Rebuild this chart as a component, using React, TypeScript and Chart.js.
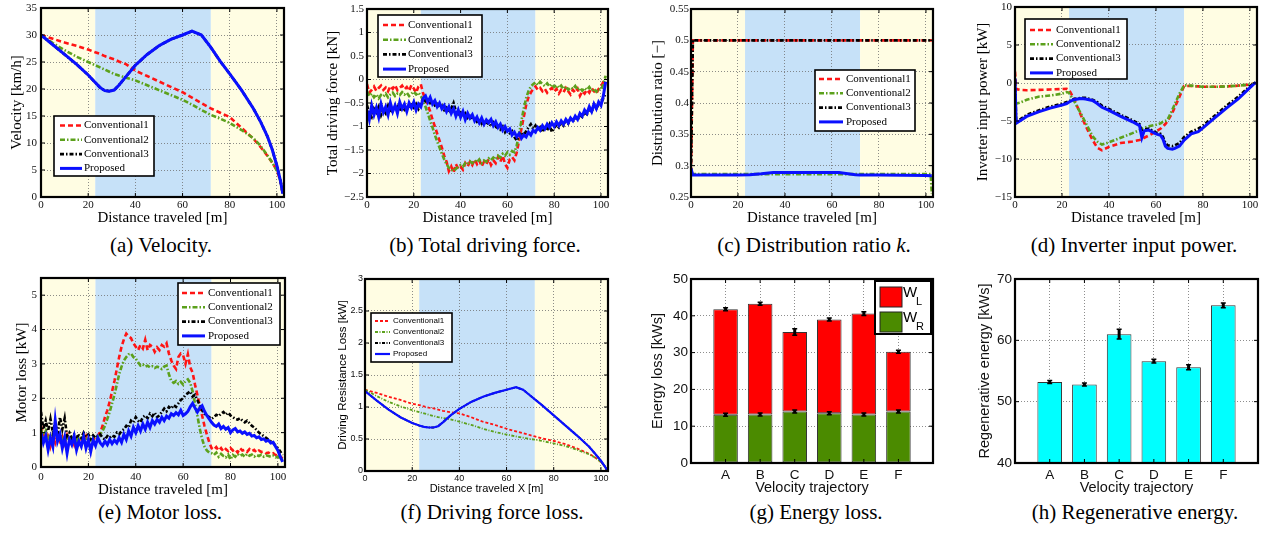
import React, { useEffect, useRef } from 'react';
import { Chart, registerables } from 'chart.js';

Chart.register(...registerables);

const SERIF = '"Liberation Serif", "Nimbus Roman", "Nimbus Roman No9 L", "FreeSerif", "DejaVu Serif", serif';
const SANS = '"Liberation Sans", Arial, Helvetica, sans-serif';

// ---------------- data ----------------
const seriesNames = ['Conventional1', 'Conventional2', 'Conventional3', 'Proposed'];
const bandEdges = [0, 23, 72, 103];
const bandColors = ['#fffde3', '#c6e1f8', '#fffde3'];

// (a) velocity
const distA = [0, 5, 10, 15, 20, 23, 25, 27, 29, 31, 33, 36, 40, 45, 50, 55, 60, 64, 68, 72, 76, 80, 85, 90, 93, 96, 98, 100, 101.5, 102.5];
const velConv1 = [30.0, 29.3, 28.6, 28.0, 27.3, 26.8, 26.5, 26.1, 25.8, 25.5, 25.1, 24.6, 23.4, 22.4, 21.4, 20.4, 19.4, 18.4, 17.4, 16.4, 15.6, 14.8, 12.8, 10.8, 9.3, 7.6, 6.4, 4.9, 3.0, 0.6];
const velConv2 = [30.0, 28.5, 27.2, 26.0, 25.0, 24.4, 24.0, 23.6, 23.2, 22.8, 22.5, 22.1, 21.6, 20.7, 19.8, 18.9, 18.0, 17.1, 16.1, 15.2, 14.5, 13.7, 12.4, 10.9, 9.5, 7.7, 6.4, 4.9, 3.0, 0.6];
const velProp = [30.0, 28.2, 26.4, 24.6, 22.6, 21.2, 20.3, 19.7, 19.6, 19.8, 20.7, 22.3, 24.4, 26.4, 28.0, 29.2, 30.0, 30.7, 30.0, 27.7, 25.1, 22.8, 19.8, 16.4, 14.0, 11.2, 8.8, 5.8, 3.0, 0.6];
const velConv3 = velProp;

// (b) total driving force, (e) motor loss : 1 m steps
const distN = [
  0, 1, 2, 3, 4, 5, 6, 7, 8, 9, 10, 11, 12, 13, 14, 15, 16, 17, 18, 19,
  20, 21, 22, 23, 24, 25, 26, 27, 28, 29, 30, 31, 32, 33, 34, 35, 36, 37, 38, 39,
  40, 41, 42, 43, 44, 45, 46, 47, 48, 49, 50, 51, 52, 53, 54, 55, 56, 57, 58, 59,
  60, 61, 62, 63, 64, 65, 66, 67, 68, 69, 70, 71, 72, 73, 74, 75, 76, 77, 78, 79,
  80, 81, 82, 83, 84, 85, 86, 87, 88, 89, 90, 91, 92, 93, 94, 95, 96, 97, 98, 99,
  100, 101, 102,
];
const forceConv1 = [
  -0.10, -0.28, -0.22, -0.15, -0.24, -0.18, -0.13, -0.22, -0.17, -0.25,
  -0.14, -0.20, -0.12, -0.23, -0.18, -0.13, -0.21, -0.16, -0.24, -0.12,
  -0.19, -0.28, -0.15, -0.10, -0.30, -0.42, -0.55, -0.68, -0.85, -1.00,
  -1.15, -1.30, -1.45, -1.62, -1.75, -1.95, -1.85, -1.98, -1.80, -1.90,
  -1.85, -1.92, -1.78, -1.85, -1.75, -1.82, -1.70, -1.80, -1.72, -1.85,
  -1.75, -1.80, -1.70, -1.82, -1.72, -1.78, -1.65, -1.75, -1.62, -1.80,
  -1.88, -1.70, -1.65, -1.72, -1.55, -1.30, -1.05, -0.80, -0.55, -0.38,
  -0.28, -0.20, -0.15, -0.22, -0.18, -0.25, -0.20, -0.28, -0.22, -0.18,
  -0.26, -0.20, -0.30, -0.22, -0.27, -0.18, -0.25, -0.32, -0.22, -0.28,
  -0.20, -0.35, -0.25, -0.30, -0.22, -0.28, -0.18, -0.25, -0.30, -0.20,
  -0.15, -0.05, 0.00,
];
const forceConv2 = [
  -0.25, -0.35, -0.30, -0.38, -0.32, -0.40, -0.33, -0.36, -0.30, -0.38,
  -0.32, -0.28, -0.35, -0.30, -0.33, -0.27, -0.32, -0.28, -0.35, -0.30,
  -0.26, -0.32, -0.28, -0.35, -0.45, -0.58, -0.72, -0.88, -1.02, -1.18,
  -1.32, -1.45, -1.58, -1.70, -1.80, -1.88, -1.92, -1.95, -1.90, -1.86,
  -1.82, -1.85, -1.78, -1.80, -1.74, -1.78, -1.72, -1.76, -1.70, -1.78,
  -1.72, -1.75, -1.68, -1.72, -1.66, -1.70, -1.62, -1.66, -1.58, -1.62,
  -1.55, -1.60, -1.52, -1.55, -1.40, -1.15, -0.88, -0.62, -0.40, -0.25,
  -0.15, -0.10, -0.06, -0.12, -0.05, -0.10, -0.14, -0.08, -0.15, -0.10,
  -0.16, -0.12, -0.18, -0.13, -0.20, -0.15, -0.22, -0.17, -0.20, -0.14,
  -0.22, -0.18, -0.24, -0.18, -0.22, -0.16, -0.24, -0.20, -0.26, -0.20,
  -0.22, -0.10, 0.08,
];
const forceConv3 = [
  -0.55, -0.72, -0.80, -0.62, -0.70, -0.58, -0.76, -0.64, -0.72, -0.56,
  -0.70, -0.60, -0.66, -0.58, -0.68, -0.55, -0.64, -0.57, -0.62, -0.54,
  -0.60, -0.52, -0.62, -0.48, -0.42, -0.46, -0.40, -0.50, -0.44, -0.55,
  -0.52, -0.60, -0.56, -0.65, -0.60, -0.70, -0.62, -0.50, -0.68, -0.74,
  -0.70, -0.78, -0.72, -0.82, -0.78, -0.86, -0.82, -0.90, -0.86, -0.94,
  -0.88, -0.96, -0.90, -1.00, -0.92, -1.04, -0.96, -1.06, -1.00, -1.12,
  -1.04, -1.14, -1.10, -1.22, -1.30, -1.20, -1.12, -1.18, -1.10, -1.02,
  -0.95, -1.05, -0.98, -1.10, -1.02, -1.12, -1.00, -1.08, -0.96, -1.12,
  -1.04, -0.96, -1.02, -0.92, -0.98, -0.88, -0.94, -0.84, -0.90, -0.80,
  -0.86, -0.76, -0.80, -0.70, -0.74, -0.64, -0.68, -0.58, -0.62, -0.52,
  -0.50, -0.40, -0.30,
];
const forceProp = [
  -0.65, -0.85, -0.55, -0.75, -0.60, -0.80, -0.52, -0.70, -0.58, -0.75,
  -0.50, -0.68, -0.55, -0.72, -0.48, -0.62, -0.52, -0.68, -0.50, -0.60,
  -0.48, -0.65, -0.52, -0.58, -0.40, -0.35, -0.48, -0.38, -0.52, -0.45,
  -0.58, -0.50, -0.62, -0.55, -0.68, -0.58, -0.72, -0.62, -0.78, -0.65,
  -0.80, -0.68, -0.85, -0.72, -0.82, -0.75, -0.88, -0.80, -0.92, -0.82,
  -0.95, -0.86, -0.92, -0.85, -0.98, -0.90, -1.02, -0.95, -1.08, -1.00,
  -1.10, -1.05, -1.18, -1.12, -1.22, -1.15, -1.25, -1.18, -1.22, -1.12,
  -1.18, -1.08, -1.12, -1.02, -1.08, -0.98, -1.05, -0.95, -1.02, -0.92,
  -1.00, -0.90, -0.98, -0.88, -0.95, -0.85, -0.92, -0.82, -0.88, -0.78,
  -0.85, -0.72, -0.78, -0.65, -0.72, -0.58, -0.68, -0.52, -0.62, -0.48,
  -0.55, -0.35, -0.05,
];

// (c) distribution ratio
const distC = [0, 0.8, 5, 20, 25, 30, 35, 40, 50, 60, 63, 66, 70, 72, 80, 90, 100, 102, 102.5];
const ratioConv1 = [0.29, 0.5, 0.5, 0.5, 0.5, 0.5, 0.5, 0.5, 0.5, 0.5, 0.5, 0.5, 0.5, 0.5, 0.5, 0.5, 0.5, 0.5, 0.5];
const ratioConv2 = [0.2865, 0.2865, 0.2865, 0.2865, 0.2865, 0.2865, 0.2865, 0.2865, 0.2865, 0.2865, 0.2865, 0.2865, 0.2865, 0.2865, 0.2865, 0.2865, 0.2865, 0.2865, 0.255];
const ratioConv3 = [0.29, 0.5, 0.5, 0.5, 0.5, 0.5, 0.5, 0.5, 0.5, 0.5, 0.5, 0.5, 0.5, 0.5, 0.5, 0.5, 0.5, 0.5, 0.5];
const ratioProp = [0.295, 0.285, 0.285, 0.285, 0.2855, 0.287, 0.289, 0.289, 0.289, 0.289, 0.289, 0.2875, 0.2855, 0.285, 0.285, 0.2848, 0.2843, 0.284, 0.284];

// (d) inverter input power
const distD = [0, 0.5, 2, 5, 10, 15, 20, 22, 23, 25, 28, 30, 33, 35, 37, 40, 45, 50, 53, 54, 55, 57, 60, 62, 63, 64, 65, 67, 68, 70, 72, 75, 78, 80, 85, 90, 95, 100, 102.5];
const powConv1 = [1.5, -0.8, -0.9, -0.95, -0.9, -0.85, -0.8, -0.75, -0.9, -2.0, -4.2, -5.6, -7.5, -8.5, -8.85, -8.4, -7.9, -7.7, -7.5, -7.4, -7.2, -6.9, -6.4, -6.0, -5.7, -5.4, -5.0, -3.9, -3.2, -1.8, -0.4, -0.4, -0.45, -0.5, -0.5, -0.45, -0.35, -0.2, 0.0];
const powConv2 = [-2.6, -2.7, -2.6, -2.2, -1.8, -1.65, -1.4, -1.2, -1.3, -2.3, -4.0, -5.2, -7.0, -7.7, -8.1, -7.8, -7.2, -6.6, -6.2, -6.0, -5.9, -5.7, -5.5, -5.3, -5.1, -5.0, -4.8, -3.5, -2.8, -1.4, -0.3, -0.35, -0.45, -0.5, -0.5, -0.45, -0.35, -0.2, 0.0];
const powConv3 = [0.6, -5.1, -4.8, -4.2, -3.6, -3.1, -2.7, -2.5, -2.4, -2.1, -1.95, -1.95, -2.2, -2.5, -3.0, -3.4, -4.2, -4.9, -5.4, -6.4, -6.1, -6.0, -6.5, -6.7, -7.1, -7.9, -8.2, -8.3, -8.2, -7.9, -7.1, -6.4, -6.0, -5.6, -4.3, -3.0, -1.8, -0.4, 0.1];
const powProp = [0.6, -5.3, -5.0, -4.4, -3.8, -3.3, -2.9, -2.7, -2.5, -2.2, -2.05, -2.1, -2.3, -2.7, -3.2, -3.6, -4.4, -5.1, -5.6, -7.2, -6.3, -6.2, -6.7, -6.9, -7.4, -8.3, -8.6, -8.7, -8.6, -8.3, -7.5, -6.7, -6.4, -5.9, -4.6, -3.3, -2.1, -0.6, 0.1];

// (e) motor loss
const lossConv1 = [
  1.20, 0.95, 0.80, 1.00, 0.62, 0.90, 0.70, 0.95, 0.75, 0.88,
  0.68, 0.92, 0.72, 0.85, 0.65, 0.90, 0.70, 0.82, 0.75, 0.90,
  0.72, 0.85, 0.78, 0.88, 0.92, 1.00, 1.20, 1.45, 1.65, 1.90,
  2.20, 2.50, 2.85, 3.20, 3.50, 3.72, 3.88, 3.80, 3.75, 3.60,
  3.50, 3.40, 3.55, 3.45, 3.70, 3.40, 3.55, 3.50, 3.35, 3.48,
  3.40, 3.55, 3.50, 3.60, 3.30, 3.10, 2.95, 2.85, 3.20, 3.30,
  3.25, 3.00, 3.28, 2.90, 2.75, 2.40, 2.10, 1.80, 1.50, 1.20,
  0.95, 0.72, 0.55, 0.50, 0.58, 0.48, 0.55, 0.45, 0.52, 0.46,
  0.55, 0.48, 0.52, 0.42, 0.55, 0.48, 0.50, 0.44, 0.52, 0.46,
  0.50, 0.42, 0.48, 0.44, 0.45, 0.40, 0.42, 0.38, 0.40, 0.35,
  0.32, 0.30, 0.25,
];
const lossConv2 = [
  1.10, 0.88, 1.05, 0.82, 0.95, 0.78, 0.92, 0.80, 0.98, 0.75,
  0.88, 0.78, 0.90, 0.80, 0.85, 0.75, 0.88, 0.80, 0.92, 0.82,
  0.85, 0.78, 0.90, 0.85, 0.88, 0.95, 1.05, 1.20, 1.40, 1.60,
  1.85, 2.10, 2.40, 2.70, 2.92, 3.10, 3.20, 3.28, 3.30, 3.20,
  3.15, 3.05, 2.95, 2.98, 2.92, 2.95, 2.90, 2.93, 2.88, 2.92,
  2.90, 2.85, 2.92, 2.95, 2.70, 2.50, 2.45, 2.50, 2.42, 2.48,
  2.40, 2.50, 2.55, 2.45, 2.20, 1.85, 1.50, 1.12, 0.82, 0.60,
  0.48, 0.42, 0.40, 0.35, 0.42, 0.30, 0.38, 0.32, 0.28, 0.36,
  0.22, 0.35, 0.30, 0.38, 0.32, 0.36, 0.30, 0.38, 0.33, 0.36,
  0.30, 0.35, 0.32, 0.36, 0.30, 0.34, 0.32, 0.30, 0.33, 0.28,
  0.30, 0.25, 0.20,
];
const lossConv3 = [
  1.60, 1.10, 1.35, 1.05, 1.40, 1.00, 1.30, 0.95, 1.45, 1.10,
  1.42, 0.90, 1.00, 0.85, 0.95, 0.88, 0.92, 0.85, 1.00, 0.88,
  0.95, 0.82, 0.92, 0.85, 0.90, 0.95, 0.85, 0.80, 0.90, 0.85,
  0.92, 0.88, 1.00, 0.95, 1.05, 1.10, 1.20, 1.15, 1.35, 1.30,
  1.45, 1.35, 1.30, 1.45, 1.50, 1.42, 1.55, 1.48, 1.58, 1.45,
  1.50, 1.60, 1.70, 1.62, 1.75, 1.70, 1.80, 1.75, 1.85, 1.95,
  2.00, 2.10, 2.15, 2.20, 2.05, 2.10, 1.95, 1.80, 1.65, 1.55,
  1.50, 1.45, 1.40, 1.45, 1.52, 1.48, 1.55, 1.60, 1.52, 1.58,
  1.50, 1.45, 1.40, 1.38, 1.42, 1.35, 1.30, 1.35, 1.28, 1.20,
  1.15, 1.08, 1.00, 0.95, 0.90, 0.85, 0.80, 0.75, 0.70, 0.62,
  0.55, 0.45, 0.35,
];
const lossProp = [
  1.00, 0.70, 0.90, 0.50, 0.85, 0.60, 1.35, 0.75, 0.95, 0.55,
  0.85, 0.40, 0.80, 0.65, 0.90, 0.50, 0.75, 0.60, 0.88, 0.55,
  0.80, 0.45, 0.78, 0.62, 0.85, 0.70, 0.62, 0.75, 0.65, 0.80,
  0.68, 0.78, 0.70, 0.85, 0.72, 0.95, 0.80, 1.05, 0.90, 1.15,
  1.00, 1.20, 1.05, 1.25, 1.10, 1.30, 1.15, 1.35, 1.25, 1.38,
  1.30, 1.45, 1.35, 1.48, 1.42, 1.55, 1.50, 1.58, 1.52, 1.65,
  1.50, 1.55, 1.62, 1.75, 1.85, 1.72, 1.60, 1.72, 1.78, 1.62,
  1.50, 1.40, 1.30, 1.22, 1.18, 1.25, 1.12, 1.18, 1.10, 1.15,
  1.00, 1.08, 1.12, 1.02, 1.05, 0.98, 1.02, 0.95, 0.98, 0.90,
  0.92, 0.85, 0.88, 0.80, 0.82, 0.75, 0.78, 0.70, 0.72, 0.60,
  0.48, 0.30, 0.15,
];

// (f) driving force loss
const distF = [0, 5, 10, 15, 20, 23, 25, 27, 29, 31, 33, 36, 40, 45, 50, 55, 60, 64, 67, 70, 72, 75, 80, 85, 90, 95, 98, 100, 101.5, 102.5];
const resConv1 = [1.27, 1.22, 1.16, 1.11, 1.05, 1.03, 1.01, 0.99, 0.98, 0.96, 0.94, 0.92, 0.90, 0.84, 0.77, 0.72, 0.66, 0.62, 0.59, 0.56, 0.54, 0.51, 0.47, 0.42, 0.35, 0.27, 0.20, 0.14, 0.08, 0.02];
const resConv2 = [1.27, 1.17, 1.08, 1.01, 0.95, 0.92, 0.90, 0.88, 0.86, 0.84, 0.83, 0.81, 0.77, 0.72, 0.66, 0.61, 0.57, 0.54, 0.52, 0.50, 0.49, 0.47, 0.43, 0.39, 0.33, 0.26, 0.20, 0.14, 0.08, 0.02];
const resProp = [1.25, 1.10, 0.96, 0.84, 0.75, 0.71, 0.69, 0.68, 0.68, 0.70, 0.76, 0.86, 0.97, 1.08, 1.16, 1.22, 1.27, 1.31, 1.27, 1.18, 1.12, 1.03, 0.87, 0.71, 0.55, 0.38, 0.25, 0.16, 0.08, 0.02];
const resConv3 = resProp;

// (g) energy loss, (h) regenerative energy
const trajectories = ['A', 'B', 'C', 'D', 'E', 'F'];
const energyWR = [13.1, 13.2, 14.0, 13.5, 13.2, 14.0];
const energyWL = [28.7, 30.1, 21.6, 25.5, 27.4, 16.2];
const energyWRErr = [0.2, 0.2, 0.2, 0.2, 0.2, 0.2];
const energyTotalErr = [0.3, 0.4, 0.9, 0.4, 0.5, 0.4];
const regenEnergy = [53.2, 52.8, 61.0, 56.6, 55.6, 65.7];
const regenErr = [0.2, 0.2, 0.8, 0.3, 0.4, 0.4];

// ---------------- styling helpers ----------------
const PAD = 12;
const bigStyles = [
  { color: '#ff1414', dash: [5, 3], width: 2.6 },
  { color: '#5ca11c', dash: [5, 2, 1.5, 2], width: 2.6 },
  { color: '#000000', dash: [4, 2, 1.5, 2], width: 2.6 },
  { color: '#0a10ff', dash: [], width: 3 },
];
const smallStyles = [
  { color: '#ff1414', dash: [3, 2], width: 1.8 },
  { color: '#5ca11c', dash: [3, 1.5, 1, 1.5], width: 1.8 },
  { color: '#000000', dash: [3, 1.5, 1, 1.5], width: 1.8 },
  { color: '#0a10ff', dash: [], width: 2.2 },
];

const fmt = (v: number) => String(Math.round(v * 1000) / 1000).replace('-', '\u2212');

type Geo = { L: number; T: number; R: number; B: number; yTitleX: number; xTitleY: number; yTitleSize: number; xTitleSize: number };

function geometry(g: Geo) {
  const lhY = g.yTitleSize * 1.2;
  const lhX = g.xTitleSize * 1.2;
  const left = Math.round(g.yTitleX - lhY / 2);
  const top = g.T - PAD;
  const width = g.R + PAD - left;
  const bottom = Math.round(g.xTitleY + lhX / 2);
  const height = bottom - top;
  return { left, top, width, height, yAxisW: g.L - left, xAxisH: bottom - g.B };
}

function bandsPlugin(edges: number[], colors: string[]) {
  return {
    id: 'bands',
    beforeDraw(chart: any) {
      const { ctx, chartArea: a, scales } = chart;
      const xs = scales.x;
      ctx.save();
      for (let i = 0; i < colors.length; i++) {
        const x0 = Math.max(a.left, xs.getPixelForValue(edges[i]));
        const x1 = Math.min(a.right, xs.getPixelForValue(edges[i + 1]));
        ctx.fillStyle = colors[i];
        ctx.fillRect(x0, a.top, x1 - x0, a.bottom - a.top);
      }
      ctx.restore();
    },
  };
}

function framePlugin(tickLen: number) {
  return {
    id: 'frame',
    afterDatasetsDraw(chart: any) {
      const { ctx, chartArea: a, scales } = chart;
      ctx.save();
      ctx.setLineDash([]);
      ctx.strokeStyle = '#000';
      ctx.lineWidth = 1;
      ctx.beginPath();
      scales.x.ticks.forEach((t: any) => {
        const px = scales.x.getPixelForValue(t.value);
        ctx.moveTo(px, a.bottom);
        ctx.lineTo(px, a.bottom - tickLen);
        ctx.moveTo(px, a.top);
        ctx.lineTo(px, a.top + tickLen);
      });
      scales.y.ticks.forEach((t: any) => {
        const py = scales.y.getPixelForValue(t.value);
        ctx.moveTo(a.left, py);
        ctx.lineTo(a.left + tickLen, py);
        ctx.moveTo(a.right, py);
        ctx.lineTo(a.right - tickLen, py);
      });
      ctx.stroke();
      ctx.lineWidth = 2.2;
      ctx.strokeRect(a.left, a.top, a.right - a.left, a.bottom - a.top);
      ctx.restore();
    },
  };
}

type LegendSpec = { dx: number; dy: number; w: number; h: number; row0: number; gap: number; l0: number; l1: number; tx: number; size: number; family: string };

function lineLegendPlugin(s: LegendSpec) {
  return {
    id: 'lineLegend',
    afterDraw(chart: any) {
      const { ctx, chartArea: a } = chart;
      const x0 = a.left + s.dx;
      const y0 = a.top + s.dy;
      ctx.save();
      ctx.setLineDash([]);
      ctx.fillStyle = '#fff';
      ctx.fillRect(x0, y0, s.w, s.h);
      ctx.strokeStyle = '#000';
      ctx.lineWidth = 1.6;
      ctx.strokeRect(x0, y0, s.w, s.h);
      chart.data.datasets.forEach((ds: any, i: number) => {
        const cy = y0 + s.row0 + i * s.gap;
        ctx.beginPath();
        ctx.setLineDash(ds.borderDash || []);
        ctx.strokeStyle = ds.borderColor;
        ctx.lineWidth = ds.borderWidth;
        ctx.moveTo(x0 + s.l0, cy);
        ctx.lineTo(x0 + s.l1, cy);
        ctx.stroke();
        ctx.setLineDash([]);
        ctx.fillStyle = '#000';
        ctx.font = `${s.size}px ${s.family}`;
        ctx.textAlign = 'left';
        ctx.textBaseline = 'middle';
        ctx.fillText(ds.label, x0 + s.tx, cy);
      });
      ctx.restore();
    },
  };
}

function errorBarPlugin(list: { ds: number; err: number[] }[]) {
  return {
    id: 'errBars',
    afterDatasetsDraw(chart: any) {
      const { ctx, scales } = chart;
      const ys = scales.y;
      ctx.save();
      ctx.strokeStyle = '#000';
      list.forEach(({ ds, err }) => {
        const meta = chart.getDatasetMeta(ds);
        meta.data.forEach((bar: any, i: number) => {
          const e = Math.abs(ys.getPixelForValue(0) - ys.getPixelForValue(err[i]));
          const h = Math.max(e, 1.5);
          ctx.lineWidth = 3;
          ctx.beginPath();
          ctx.moveTo(bar.x, bar.y - h);
          ctx.lineTo(bar.x, bar.y + h);
          ctx.stroke();
          ctx.lineWidth = 1.5;
          ctx.beginPath();
          ctx.moveTo(bar.x - 2.5, bar.y - h);
          ctx.lineTo(bar.x + 2.5, bar.y - h);
          ctx.moveTo(bar.x - 2.5, bar.y + h);
          ctx.lineTo(bar.x + 2.5, bar.y + h);
          ctx.stroke();
        });
      });
      ctx.restore();
    },
  };
}

function barLegendPlugin(dx: number, dy: number, w: number, h: number) {
  return {
    id: 'barLegend',
    afterDraw(chart: any) {
      const { ctx, chartArea: a } = chart;
      const x0 = a.right - dx;
      const y0 = a.top + dy;
      ctx.save();
      ctx.fillStyle = '#fff';
      ctx.fillRect(x0, y0, w, h);
      ctx.strokeStyle = '#000';
      ctx.lineWidth = 2;
      ctx.strokeRect(x0, y0, w, h);
      const entries = [chart.data.datasets[1], chart.data.datasets[0]];
      entries.forEach((ds: any, i: number) => {
        const py = y0 + 6 + i * 25;
        ctx.fillStyle = ds.backgroundColor;
        ctx.fillRect(x0 + 5, py, 22, 20);
        ctx.lineWidth = 1;
        ctx.strokeStyle = '#222';
        ctx.strokeRect(x0 + 5, py, 22, 20);
        ctx.fillStyle = '#000';
        ctx.textAlign = 'left';
        ctx.textBaseline = 'middle';
        ctx.font = `15px ${SANS}`;
        ctx.fillText('W', x0 + 28, py + 6);
        ctx.font = `11px ${SANS}`;
        ctx.fillText(ds.label.split('_')[1], x0 + 41, py + 15);
      });
      ctx.restore();
    },
  };
}

type LineSpec = {
  x: number[];
  series: number[][];
  yMin: number;
  yMax: number;
  yStep: number;
  xTitle: string;
  yTitle: string;
  family: string;
  tickSize: number;
  yTitleSize: number;
  xTitleSize: number;
  xTickPad: number;
  yTickPad: number;
  styles: { color: string; dash: number[]; width: number }[];
  legend: LegendSpec;
};

function lineConfig(p: LineSpec, yW: number, xH: number) {
  const tickFont = { family: p.family, size: p.tickSize, lineHeight: 1.2 };
  const grid = { color: '#707070', lineWidth: 0.8, drawTicks: false };
  const border = { display: false, dash: [1, 2] };
  return {
    type: 'line',
    data: {
      datasets: p.series.map((ys, i) => ({
        label: seriesNames[i],
        data: ys.map((y, k) => ({ x: p.x[k], y })),
        borderColor: p.styles[i].color,
        borderWidth: p.styles[i].width,
        borderDash: p.styles[i].dash,
        pointRadius: 0,
        fill: false,
        tension: 0,
        order: 3 - i,
      })),
    },
    options: {
      animation: false,
      responsive: false,
      events: [],
      layout: { padding: { left: 0, top: PAD, right: PAD, bottom: 0 } },
      plugins: { legend: { display: false }, tooltip: { enabled: false } },
      scales: {
        x: {
          type: 'linear',
          min: 0,
          max: 103,
          ticks: { stepSize: 20, includeBounds: false, autoSkip: false, maxRotation: 0, padding: p.xTickPad, font: tickFont, color: '#111', callback: (v: number) => fmt(v) },
          grid,
          border,
          title: { display: true, text: p.xTitle, color: '#000', padding: 0, font: { family: p.family, size: p.xTitleSize, lineHeight: 1.2 } },
          afterFit: (s: any) => { s.height = xH; },
        },
        y: {
          type: 'linear',
          min: p.yMin,
          max: p.yMax,
          ticks: { stepSize: p.yStep, includeBounds: false, autoSkip: false, padding: p.yTickPad, font: tickFont, color: '#111', callback: (v: number) => fmt(v) },
          grid,
          border,
          title: { display: true, text: p.yTitle, color: '#000', padding: 0, font: { family: p.family, size: p.yTitleSize, lineHeight: 1.2 } },
          afterFit: (s: any) => { s.width = yW; },
        },
      },
    },
    plugins: [bandsPlugin(bandEdges, bandColors), framePlugin(4), lineLegendPlugin(p.legend)],
  };
}

type BarSpec = {
  datasets: { label: string; values: number[]; color: string }[];
  yMin: number;
  yMax: number;
  yStep: number;
  yTitle: string;
  xTitle: string;
  errors: { ds: number; err: number[] }[];
  legend: boolean;
};

function barConfig(p: BarSpec, yW: number, xH: number) {
  const tickFont = { family: SANS, size: 13.5, lineHeight: 1.2 };
  const grid = { color: '#707070', lineWidth: 0.8, drawTicks: false, offset: false };
  const border = { display: false, dash: [1, 2] };
  const plugins: any[] = [framePlugin(4), errorBarPlugin(p.errors)];
  if (p.legend) plugins.push(barLegendPlugin(58, 2, 56, 53));
  return {
    type: 'bar',
    data: {
      datasets: p.datasets.map((d) => ({
        label: d.label,
        data: d.values.map((v, i) => ({ x: i + 1, y: v })),
        backgroundColor: d.color,
        borderColor: '#333',
        borderWidth: 1,
        borderSkipped: false,
        barPercentage: 0.71,
        categoryPercentage: 1,
      })),
    },
    options: {
      animation: false,
      responsive: false,
      events: [],
      layout: { padding: { left: 0, top: PAD, right: PAD, bottom: 0 } },
      plugins: { legend: { display: false }, tooltip: { enabled: false } },
      scales: {
        x: {
          type: 'linear',
          min: 0,
          max: 7,
          offset: false,
          stacked: true,
          afterBuildTicks: (s: any) => { s.ticks = s.ticks.filter((t: any) => t.value >= 1 && t.value <= trajectories.length); },
          ticks: { stepSize: 1, autoSkip: false, maxRotation: 0, padding: 4, font: tickFont, color: '#111', callback: (v: number) => trajectories[Math.round(v) - 1] || '' },
          grid,
          border,
          title: { display: true, text: p.xTitle, color: '#111', padding: 0, font: { family: SANS, size: 14.5, lineHeight: 1.2 } },
          afterFit: (s: any) => { s.height = xH; },
        },
        y: {
          type: 'linear',
          min: p.yMin,
          max: p.yMax,
          stacked: true,
          ticks: { stepSize: p.yStep, autoSkip: false, padding: 3, font: tickFont, color: '#111' },
          grid,
          border,
          title: { display: true, text: p.yTitle, color: '#111', padding: 0, font: { family: SANS, size: 14.5, lineHeight: 1.2 } },
          afterFit: (s: any) => { s.width = yW; },
        },
      },
    },
    plugins,
  };
}

function ChartPanel({ geo, build }: { geo: Geo; build: (yW: number, xH: number) => any }) {
  const ref = useRef<HTMLCanvasElement>(null);
  const g = geometry(geo);
  useEffect(() => {
    const chart = new Chart(ref.current as HTMLCanvasElement, build(g.yAxisW, g.xAxisH));
    return () => chart.destroy();
  }, []);
  return (
    <canvas
      ref={ref}
      width={g.width}
      height={g.height}
      style={{ position: 'absolute', left: g.left, top: g.top, width: g.width, height: g.height }}
    />
  );
}

function Caption({ cx, cy, children }: { cx: number; cy: number; children: React.ReactNode }) {
  return (
    <div
      style={{
        position: 'absolute',
        left: cx - 200,
        width: 400,
        top: cy - 12,
        height: 24,
        lineHeight: '24px',
        textAlign: 'center',
        fontFamily: SERIF,
        fontSize: 21,
        color: '#000',
        whiteSpace: 'nowrap',
      }}
    >
      {children}
    </div>
  );
}

const serifBase = { family: SERIF, tickSize: 11, yTitleSize: 15, xTitleSize: 15, xTickPad: 2 };

export default function App() {
  const panels: { geo: Geo; build: (yW: number, xH: number) => any }[] = [
    {
      geo: { L: 41, T: 8, R: 284, B: 197, yTitleX: 17, xTitleY: 218, yTitleSize: 15, xTitleSize: 15 },
      build: (yW, xH) =>
        lineConfig({ ...serifBase, x: distA, series: [velConv1, velConv2, velConv3, velProp], yMin: 0, yMax: 35, yStep: 5, xTitle: 'Distance traveled [m]', yTitle: 'Velocity [km/h]', yTickPad: 4, styles: bigStyles,
          legend: { dx: 13, dy: 108, w: 100, h: 60, row0: 9.5, gap: 14.3, l0: 6, l1: 28, tx: 30, size: 11, family: SERIF } }, yW, xH),
    },
    {
      geo: { L: 367, T: 9, R: 608, B: 197, yTitleX: 333, xTitleY: 218, yTitleSize: 15, xTitleSize: 15 },
      build: (yW, xH) =>
        lineConfig({ ...serifBase, x: distN, series: [forceConv1, forceConv2, forceConv3, forceProp], yMin: -2.5, yMax: 1.5, yStep: 0.5, xTitle: 'Distance traveled [m]', yTitle: 'Total driving force [kN]', yTickPad: 3, styles: bigStyles,
          legend: { dx: 11, dy: 6, w: 104, h: 62, row0: 10, gap: 14.7, l0: 5, l1: 28, tx: 30, size: 11, family: SERIF } }, yW, xH),
    },
    {
      geo: { L: 691, T: 9, R: 933, B: 197, yTitleX: 658, xTitleY: 218, yTitleSize: 15, xTitleSize: 15 },
      build: (yW, xH) =>
        lineConfig({ ...serifBase, x: distC, series: [ratioConv1, ratioConv2, ratioConv3, ratioProp], yMin: 0.25, yMax: 0.55, yStep: 0.05, xTitle: 'Distance traveled [m]', yTitle: 'Distribution ratio [\u2212]', yTickPad: 2, styles: bigStyles,
          legend: { dx: 124, dy: 61, w: 100, h: 61, row0: 9, gap: 14.3, l0: 4, l1: 28, tx: 31, size: 11, family: SERIF } }, yW, xH),
    },
    {
      geo: { L: 1015, T: 7, R: 1257, B: 197, yTitleX: 983, xTitleY: 218, yTitleSize: 15, xTitleSize: 15 },
      build: (yW, xH) =>
        lineConfig({ ...serifBase, x: distD, series: [powConv1, powConv2, powConv3, powProp], yMin: -15, yMax: 10, yStep: 5, xTitle: 'Distance traveled [m]', yTitle: 'Inverter input power [kW]', yTickPad: 3, styles: bigStyles,
          legend: { dx: 10, dy: 12, w: 102, h: 60, row0: 11, gap: 14.3, l0: 5, l1: 28, tx: 31, size: 11, family: SERIF } }, yW, xH),
    },
    {
      geo: { L: 41, T: 278, R: 285, B: 467, yTitleX: 22, xTitleY: 490, yTitleSize: 15, xTitleSize: 15 },
      build: (yW, xH) =>
        lineConfig({ ...serifBase, xTickPad: 3.4, x: distN, series: [lossConv1, lossConv2, lossConv3, lossProp], yMin: 0, yMax: 5.5, yStep: 1, xTitle: 'Distance traveled [m]', yTitle: 'Motor loss [kW]', yTickPad: 4, styles: bigStyles,
          legend: { dx: 137, dy: 5, w: 102, h: 62, row0: 10, gap: 14.3, l0: 4, l1: 27, tx: 30, size: 11, family: SERIF } }, yW, xH),
    },
    {
      geo: { L: 365, T: 279, R: 608, B: 471, yTitleX: 343, xTitleY: 489, yTitleSize: 11.5, xTitleSize: 11 },
      build: (yW, xH) =>
        lineConfig({ family: SANS, tickSize: 9, yTitleSize: 11.5, xTitleSize: 11, xTickPad: 2, x: distF, series: [resConv1, resConv2, resConv3, resProp], yMin: 0, yMax: 3, yStep: 0.5, xTitle: 'Distance traveled X [m]', yTitle: 'Driving Resistance Loss [kW]', yTickPad: 2, styles: smallStyles,
          legend: { dx: 6, dy: 34, w: 81, h: 49, row0: 8, gap: 11, l0: 4, l1: 19, tx: 22, size: 8, family: SANS } }, yW, xH),
    },
    {
      geo: { L: 691, T: 279, R: 933, B: 463, yTitleX: 658, xTitleY: 488, yTitleSize: 14.5, xTitleSize: 14.5 },
      build: (yW, xH) =>
        barConfig({
          datasets: [
            { label: 'W_R', values: energyWR, color: '#4b8b00' },
            { label: 'W_L', values: energyWL, color: '#ff0000' },
          ],
          yMin: 0, yMax: 50, yStep: 10, yTitle: 'Energy loss [kWs]', xTitle: 'Velocity trajectory',
          errors: [{ ds: 0, err: energyWRErr }, { ds: 1, err: energyTotalErr }],
          legend: true,
        }, yW, xH),
    },
    {
      geo: { L: 1015, T: 279, R: 1258, B: 463, yTitleX: 985, xTitleY: 488, yTitleSize: 14.5, xTitleSize: 14.5 },
      build: (yW, xH) =>
        barConfig({
          datasets: [{ label: 'Regenerative', values: regenEnergy, color: '#00ffff' }],
          yMin: 40, yMax: 70, yStep: 10, yTitle: 'Regenerative energy [kWs]', xTitle: 'Velocity trajectory',
          errors: [{ ds: 0, err: regenErr }],
          legend: false,
        }, yW, xH),
    },
  ];

  return (
    <div style={{ position: 'absolute', left: 0, top: 0, width: 1265, height: 533, background: '#fff', overflow: 'hidden' }}>
      {panels.map((p, i) => (
        <ChartPanel key={i} geo={p.geo} build={p.build} />
      ))}
      <Caption cx={161} cy={245}>(a) Velocity.</Caption>
      <Caption cx={485} cy={245}>(b) Total driving force.</Caption>
      <Caption cx={814} cy={245}>(c) Distribution ratio <i>k</i>.</Caption>
      <Caption cx={1134} cy={245}>(d) Inverter input power.</Caption>
      <Caption cx={160} cy={512}>(e) Motor loss.</Caption>
      <Caption cx={492} cy={512}>(f) Driving force loss.</Caption>
      <Caption cx={816} cy={512}>(g) Energy loss.</Caption>
      <Caption cx={1135} cy={512}>(h) Regenerative energy.</Caption>
    </div>
  );
}
